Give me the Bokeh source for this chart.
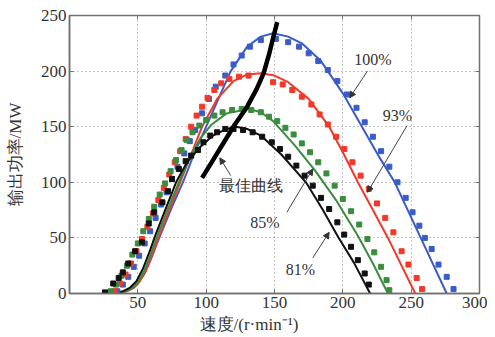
from bokeh.plotting import figure
from bokeh.models import LinearAxis, FixedTicker, Range1d, Arrow, NormalHead, Label
from bokeh.embed import file_html
from bokeh.resources import INLINE

# ---- data ----
x_ticks = [50, 100, 150, 200, 250, 300]
y_ticks = [0, 50, 100, 150, 200, 250]

# fitted curves
blue_line_x = [34, 40, 45, 50, 55, 60, 64, 68, 75, 83, 91, 100, 110, 118, 130, 140, 149, 160, 170, 184, 189, 200, 214, 226, 238, 257, 276]
blue_line_y = [0, 1.5, 4, 9, 18, 32, 45, 57, 78, 100, 125, 150, 178, 200, 222, 231, 234, 231, 225, 209, 200, 180, 150, 124, 100, 50, 0]

red_line_x = [36, 42, 47, 51, 56, 61, 66, 73, 81, 89, 97, 108, 120, 130, 140, 150, 160, 175, 190, 200, 211, 222, 233, 253]
red_line_y = [0, 2, 5, 10, 21, 36, 53, 75, 100, 125, 150, 175, 191, 197, 198, 196, 190, 175, 150, 127, 100, 75, 50, 0]

green_line_x = [35, 41, 46, 50, 55, 60, 65, 72, 80, 88, 96, 104, 115, 131, 140, 149, 165, 180, 195, 211, 222, 233]
green_line_y = [0, 2, 5, 10, 21, 37, 54, 76, 100, 122, 140, 152, 162, 166, 163, 155, 133, 110, 84, 52, 27, 0]

black_line_x = [33, 39, 44, 49, 54, 59, 63, 70, 78, 86, 95, 105, 115, 122, 130, 140, 155, 173, 185, 197, 208, 220]
black_line_y = [0, 2, 5, 11, 23, 39, 53, 75, 100, 118, 131, 142, 148, 150, 148, 142, 125, 100, 76, 50, 28, 0]

best_x = [97, 105, 113, 121, 130, 137, 142, 146, 149, 152]
best_y = [104, 120, 136, 152, 168, 184, 198, 215, 230, 244]

# measured points (squares)
blue_pts_x = [35, 39, 43, 47, 51, 55, 59, 63, 67, 71, 75, 79, 84, 88, 92, 97, 102, 107, 114, 120, 126, 132, 140, 151, 160, 168, 175, 182, 189, 196, 203, 210, 216, 222, 228, 234, 240, 246, 251, 256, 260, 265, 270, 276, 281]
blue_pts_y = [2, 8, 15, 24, 34, 45, 56, 68, 80, 91, 103, 114, 126, 137, 147, 162, 175, 186, 196, 206, 214, 222, 228, 229, 226, 222, 216, 209, 201, 191, 179, 167, 154, 141, 128, 114, 100, 86, 73, 61, 50, 40, 26, 15, 4]

red_pts_x = [33, 37, 41, 45, 49, 53, 57, 61, 65, 69, 73, 77, 81, 85, 89, 93, 97, 101, 106, 111, 117, 124, 131, 149, 156, 163, 170, 177, 183, 189, 195, 201, 207, 213, 219, 225, 231, 237, 243, 248, 254, 258]
red_pts_y = [2, 9, 17, 27, 38, 49, 60, 72, 84, 95, 107, 118, 128, 139, 150, 160, 168, 176, 183, 189, 193, 195, 196, 190, 188, 183, 177, 170, 161, 152, 141, 130, 118, 106, 94, 81, 68, 55, 38, 26, 14, 4]

green_pts_x = [30, 34, 38, 42, 46, 50, 54, 58, 62, 66, 70, 74, 78, 82, 86, 90, 95, 100, 106, 112, 119, 126, 133, 140, 146, 152, 158, 164, 170, 176, 182, 188, 194, 200, 206, 212, 218, 223, 228, 232, 234]
green_pts_y = [2, 8, 16, 25, 35, 45, 56, 67, 78, 89, 99, 110, 120, 129, 138, 145, 151, 156, 160, 163, 165, 166, 165, 163, 159, 155, 149, 143, 135, 127, 118, 108, 97, 85, 74, 62, 49, 37, 24, 12, 3]

black_pts_x = [26, 32, 36, 39, 43, 48, 53, 58, 62, 68, 72, 75, 80, 85, 89, 94, 98, 103, 108, 114, 120, 127, 134, 141, 148, 154, 160, 166, 172, 178, 184, 190, 196, 201, 206, 211, 216, 219]
black_pts_y = [1, 9, 14, 19, 27, 38, 46, 63, 73, 82, 92, 103, 112, 119, 124, 129, 136, 142, 145, 148, 148, 147, 145, 141, 136, 130, 123, 115, 106, 97, 86, 76, 64, 53, 42, 30, 18, 8]

series_colors = ["#3a5cc8", "#f2382a", "#3a8c3e", "#111111"]

# annotation texts and arrows (data coordinates)
ann_texts = ["100%", "93%", "最佳曲线", "85%", "81%"]
ann_text_x = [222, 240, 133, 143, 169]
ann_text_y = [210, 160, 97, 64, 22]
arrow_x0 = [218, 247, 118, 159, 178]
arrow_y0 = [200, 151, 106, 73, 32]
arrow_x1 = [205, 218, 110, 178, 190]
arrow_y1 = [176, 91, 122, 112, 55]

x_title = "速度/(r·min⁻¹)"
y_title = "输出功率/MW"

SERIF = "serif"
AXIS_COLOR = "#707070"
TEXT_COLOR = "#333333"

p = figure(frame_width=410, frame_height=278, x_range=Range1d(0, 300), y_range=Range1d(0, 250),
           output_backend="svg", toolbar_location=None,
           min_border_left=69, min_border_right=8, min_border_top=15, min_border_bottom=36)
p.background_fill_color = "white"
p.border_fill_color = "white"
p.outline_line_color = AXIS_COLOR
p.outline_line_width = 1.5

p.xaxis.ticker = FixedTicker(ticks=x_ticks)
p.yaxis.ticker = FixedTicker(ticks=y_ticks)
for ax in (p.xaxis[0], p.yaxis[0]):
    ax.major_tick_in = 4
    ax.major_tick_out = 0
    ax.minor_tick_line_color = None
    ax.axis_line_color = AXIS_COLOR
    ax.axis_line_width = 1.5
    ax.major_tick_line_color = AXIS_COLOR
    ax.major_label_text_font = SERIF
    ax.major_label_text_font_size = "17px"
    ax.major_label_text_color = TEXT_COLOR
    ax.axis_label_text_font = SERIF
    ax.axis_label_text_font_style = "normal"
    ax.axis_label_text_font_size = "17px"
    ax.axis_label_text_color = TEXT_COLOR
    ax.major_label_standoff = 3

# trailing em spaces shift the x title left of the frame centre, as in the original
p.xaxis.axis_label = x_title + "\u2003\u2003\u2003"
p.yaxis.axis_label = y_title
p.xaxis.axis_label_standoff = 4
p.yaxis.axis_label_standoff = 13

for loc in ("above", "right"):
    ticks = x_ticks if loc == "above" else y_ticks
    ax = LinearAxis(ticker=FixedTicker(ticks=ticks))
    ax.major_tick_in = 4
    ax.major_tick_out = 0
    ax.minor_tick_line_color = None
    ax.major_label_overrides = {t: "" for t in ticks}
    ax.major_label_text_font_size = "1px"
    ax.major_label_standoff = 0
    ax.axis_line_color = AXIS_COLOR
    ax.major_tick_line_color = AXIS_COLOR
    p.add_layout(ax, loc)

p.xgrid.ticker = FixedTicker(ticks=x_ticks)
p.ygrid.ticker = FixedTicker(ticks=y_ticks)
p.grid.grid_line_color = "#8a8a8a"
p.grid.grid_line_dash = "1 3"
p.grid.grid_line_width = 1

lines = [(blue_line_x, blue_line_y), (red_line_x, red_line_y),
         (green_line_x, green_line_y), (black_line_x, black_line_y)]
pts = [(blue_pts_x, blue_pts_y), (red_pts_x, red_pts_y),
       (green_pts_x, green_pts_y), (black_pts_x, black_pts_y)]

for (lx, ly), c in zip(lines, series_colors):
    p.line(lx, ly, line_color=c, line_width=2)
for (px, py), c in zip(pts, series_colors):
    p.scatter(px, py, marker="square", size=5, fill_color=c, line_color=c)

p.line(best_x, best_y, line_color="#000000", line_width=4.5)

for i in range(len(ann_texts)):
    p.add_layout(Arrow(end=NormalHead(size=6, fill_color=TEXT_COLOR, line_color=TEXT_COLOR),
                       x_start=arrow_x0[i], y_start=arrow_y0[i],
                       x_end=arrow_x1[i], y_end=arrow_y1[i],
                       line_color="#444444", line_width=1))
    p.add_layout(Label(x=ann_text_x[i], y=ann_text_y[i], text=ann_texts[i],
                       text_align="center", text_baseline="middle",
                       text_font=SERIF, text_font_size="16px", text_color=TEXT_COLOR))

open("out.html", "w").write(file_html(p, INLINE))
